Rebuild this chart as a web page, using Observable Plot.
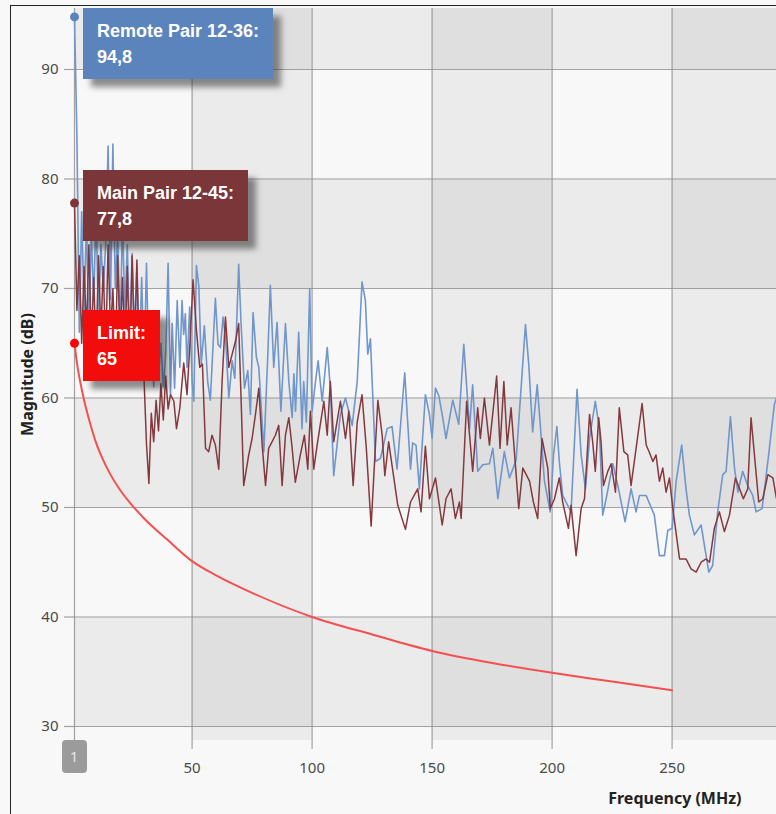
<!DOCTYPE html>
<html><head><meta charset="utf-8">
<script src="https://cdn.jsdelivr.net/npm/d3@7"></script>
<script src="https://cdn.jsdelivr.net/npm/@observablehq/plot@0.6"></script>
<style>
body{margin:0;background:#f8f8f8;}
#frame{position:absolute;left:10px;top:5px;width:766px;height:809px;border-left:1px solid #222;border-top:1px solid #222;overflow:hidden;}
.tip{position:absolute;color:#fff;font:bold 18px "Liberation Sans",Arial,sans-serif;line-height:26px;padding:10px 14px 9px 14px;box-shadow:8px 8px 6px rgba(50,50,50,0.55);white-space:nowrap;}
.xval{position:absolute;width:25px;height:33px;border-radius:4px;background:#9b9b9b;color:#e6e6e6;font:15px "Noto Sans",sans-serif;text-align:center;line-height:33px;}
</style></head>
<body><div id="frame"></div>
<script>
// ---- data ----
const seriesNames = ["Remote Pair 12-36", "Main Pair 12-45", "Limit"];
const blueFreq = [1,2,3,4,5,6,7,8,9,10,11,12,13,14,15,16,17,18,19,20,21,22,23,24,25,26,27,28,29,30,31,32,33,34,35,36,37,38,39,40,41,
41.7,42.7,43.8,44.9,45.8,46.5,47.2,47.9,49,50,50.7,51.8,52.8,53.8,55.1,56.5,57.6,59.7,60.8,61.8,62.9,64,65.3,66.7,67.8,69.4,70.4,71.8,73.2,74.3,75.4,76.8,77.8,79.9,81.5,82.6,84,85.4,87,88.9,90.3,91.7,
92.4,93.1,94.4,95.8,96.5,97.6,99,100,101.4,102.5,104.2,106.3,107.6,109,111.8,113.9,116.7,118.8,120.8,122.2,123.2,124.3,126.4,128.5,131.3,133.3,135.4,138.6,141,
141.9,143.3,144.7,147.2,148.9,150,151.4,152.8,154.2,155.8,158.6,161.1,163.2,165.6,166.9,169,171.1,173.9,175.3,177.4,180.1,182.2,185,188.9,190.3,191.9,193.8,
195.4,196.8,199.2,200.6,202,203,204.4,205.8,207.9,210.4,212.1,213.9,215.6,218,219.7,221.1,222.8,225.3,227.4,230.4,232.9,235,236.4,239.2,
242.6,244.7,246.8,248.2,250,251.7,254,255.8,257.2,259.3,262.1,263.5,265.3,266.9,269,271.1,272.5,274.3,276,277.4,279.4,281.5,283.6,285,287.5,289.9,292.6,293.5];
const blueMag = [94.8,84,66,77,68,76,66,75,69,77,67,74,70,74,83,69,83.2,70,75,66,76,68,74,65,73.2,66,72,64,71,63,72.3,62,66,61,67,62,65,61,64,72.3,60.3,
66.8,60.9,68.9,62.8,68.9,65.8,67.7,62.8,68.3,61.5,59.7,72.1,70.2,63.1,66.6,61.5,59.8,69.1,64.9,64.6,67.4,65.2,60,63.4,61.8,72.2,66.8,60.9,62.5,58.5,67.8,63.7,62.8,55.1,63.7,70.3,62.8,66.9,58.8,66.8,61.5,58.2,
62.2,58.8,66,57.2,61.5,57.8,70,58.8,61.5,63.4,59.7,64.6,60.9,52.9,58.5,60,57.5,61.5,70.6,68.9,64,65.4,54.2,54.5,57.2,57.4,53.5,62.3,53.5,
55.9,55.7,51.7,60.3,58.5,56.3,60.9,60.2,58.5,56.3,59.8,57.6,64.9,57.2,61.2,53.3,53.9,54,55.4,50.8,55.1,52.7,54.3,66.7,63,56.9,61.2,
56.6,52.4,49.6,54.8,57.4,54.2,51.1,50.5,49.6,60.8,54.8,51.7,56.3,59.7,57.2,49.3,51.1,54,52,48.7,51.7,49.6,51.1,51.1,
49.3,45.6,45.6,47.9,48.1,52.4,55.7,51.7,49.3,47.5,48.4,46.5,44.1,44.7,49.6,53,53.3,58.3,53.6,51.4,53.3,52,51.1,49.6,49.9,54.2,59.4,60];

const redFreq = [1,2,3,4,5,6,7,8,9,10,11,12,13,14,15,16,17,18,19,20,21,22,23,24,25,26,27,28,29,30,31,32,33,34,35,36,37,38,39,40,41,
42.4,43.5,44.9,46.5,47.9,49.3,50.4,51.8,53.2,54.3,55.6,56.9,58.3,59.7,61.1,62.5,63.9,65.3,66.7,68.1,69.4,70.4,71.5,73.6,75,76.4,77.8,79.2,80.6,81.9,83.3,84.7,86.1,87.5,88.9,90.3,91.7,93,
95.1,96.8,98.2,99.3,100.7,102.1,104.9,106.3,107.6,109,111.8,113.9,115.3,117.1,118.8,120.8,122.6,124.6,127.4,129.2,130.3,131.9,135.7,138.9,141,
144,145.4,147.2,148.9,151.4,154.2,155.8,157.9,159.7,161.4,162.1,164.4,166.9,169,170.1,171.8,173.9,176.9,178.3,179.9,181.3,182.9,186.1,187.8,190.6,192.2,194,
195.8,198.2,199.2,201,203,204.4,206.8,207.9,210,212.1,213.5,215.6,216.9,218,219.4,220.4,221.4,223.2,224.6,226.4,228,229.9,231.5,232.9,235,237.5,239.2,240.6,
242,243.3,244.7,246.1,247.5,248.9,250.3,253.1,255.8,257.9,260,262.1,264.2,265.6,267.6,269.7,271.8,273.9,276.4,278.1,279.7,281.5,282.9,284.3,286.1,287.8,289.9,292,293.5];
const redMag = [77.8,68,73,65,72,66,74,65,71,64,73,66,72,64,74,66,70,63,73,65,71,64,72,63,73,64,72.6,63,68,61.6,55.8,52.2,58.6,56,59.8,57,61.3,58,62,59,60.3,
59.7,57.2,59.1,63.2,60.3,65.8,70.8,66.2,62.8,63.1,55.4,55.1,56.6,55.7,53.5,61.5,67.4,62.8,64,65.2,66.8,60,52,54.8,56.3,58.5,60.9,55.7,52,55.4,56,56.6,57.5,52,56.6,58.2,55.4,52.3,
54.8,56.6,53.5,58.8,53.5,55.7,59.7,56.6,61.5,56,59.7,56.3,58.8,52,57.8,60.3,55.4,48.3,59.8,56.6,52.9,56,50.2,48,50.5,
51.7,49.6,55.6,50.8,52.7,48.4,50.8,51.7,49,50.5,49,59.7,53.3,59.1,56.3,60,55.7,62,55.4,61.5,55.7,59.1,49.9,53.6,52.4,50.5,49,
56.3,53.6,49.9,50.8,52.7,50.5,48.1,50.2,45.6,49.9,50.8,58.5,56,53.3,58.2,56,52,53.3,54,51.4,59.1,55.1,54.8,52,55.4,59.5,55.7,55,
54.2,54.8,52.4,53.6,51.4,52.7,49.9,45.3,45.3,44.4,44.1,45,45.3,45,48.1,49.6,47.8,49.3,52.7,51.7,50.8,51.7,58.2,54.8,50.5,50.8,53,52.7,50.8];

const limitFreq = [1,2,3,4,5,6,8,10,13,16,20,25,30,40,50,60,75,100,125,150,175,200,225,250];
const limitMag = [65,63.2,61.9,60.8,59.8,58.9,57.3,55.9,54.3,53,51.6,50.2,49,47,45.1,43.8,42.2,40,38.4,36.9,35.8,34.9,34.1,33.3];

const xTicks = [50,100,150,200,250];
const yTicks = [30,40,50,60,70,80,90];
const xDomain = [1, 293.5];
const yDomain = [28.72, 95.57];

// ---- build ----
const blue = blueFreq.map((f,i)=>({f, v: blueMag[i]}));
const red = redFreq.map((f,i)=>({f, v: redMag[i]}));
const limit = limitFreq.map((f,i)=>({f, v: limitMag[i]}));

const colors = {blueLine:"#7096cc", blueBox:"#5b84bd", redLine:"#84393f", redBox:"#7b363a", limLine:"#f45050", limBox:"#f20c0c"};

const xb = [xDomain[0], ...xTicks, xDomain[1]];
const colBands = [];
for (let i = 1; i < xb.length - 1; i += 2) colBands.push({a: xb[i], b: xb[i+1]});
const yb = [yDomain[0], ...yTicks, yDomain[1]];
const rowBands = [];
for (let i = 1; i < yb.length - 1; i += 2) rowBands.push({a: yb[i], b: yb[i+1]});

const firsts = [
  {f: blueFreq[0], v: blueMag[0], c: colors.blueBox},
  {f: redFreq[0], v: redMag[0], c: colors.redBox},
  {f: limitFreq[0], v: limitMag[0], c: "#f00"}
];

const gridColor = "#8c8c8c";
const font = "'Noto Sans', sans-serif";

const plot = Plot.plot({
  width: 765, height: 808,
  marginLeft: 63, marginRight: 0, marginTop: 2, marginBottom: 74,
  style: {background: "transparent", fontFamily: font, overflow: "visible"},
  x: {domain: xDomain, axis: null, label: null},
  y: {domain: yDomain, axis: null, label: null},
  marks: [
    Plot.rect(colBands, {x1: "a", x2: "b", y1: yDomain[0], y2: yDomain[1], fill: "#000", fillOpacity: 0.052}),
    Plot.rect(rowBands, {x1: xDomain[0], x2: xDomain[1], y1: "a", y2: "b", fill: "#000", fillOpacity: 0.052}),
    Plot.ruleX([xDomain[0], ...xTicks], {y1: yDomain[0], y2: yDomain[1], stroke: gridColor, strokeOpacity: 0.8, strokeWidth: 1.2}),
    Plot.ruleY(yTicks, {x1: xDomain[0], x2: xDomain[1], stroke: gridColor, strokeOpacity: 0.8, strokeWidth: 1.2}),
    Plot.axisX(xTicks, {tickSize: 9, tickFormat: () => "", stroke: gridColor, strokeOpacity: 0.8, strokeWidth: 1.2, label: null}),
    Plot.axisX(xTicks, {tickSize: 0, tickPadding: 22, fontSize: 15, fill: "#4a4a4a", label: null}),
    Plot.axisY(yTicks, {tickSize: 10, tickFormat: () => "", stroke: gridColor, strokeOpacity: 0.8, strokeWidth: 1.2, label: null}),
    Plot.axisY(yTicks, {tickSize: 0, tickPadding: 16, fontSize: 15, fill: "#4a4a4a", label: null}),
    Plot.line(blue, {x: "f", y: "v", stroke: colors.blueLine, strokeWidth: 1.6}),
    Plot.line(red, {x: "f", y: "v", stroke: colors.redLine, strokeWidth: 1.5}),
    Plot.line(limit, {x: "f", y: "v", stroke: colors.limLine, strokeWidth: 2, curve: "monotone-x"}),
    Plot.dot(firsts, {x: "f", y: "v", r: 4.5, fill: "c", stroke: "none"}),
    Plot.text(["Magnitude (dB)"], {frameAnchor: "left", textAnchor: "middle", dx: -47, dy: 0, rotate: -90, fontWeight: "bold", fontSize: 16, fill: "#222"}),
    Plot.text(["Frequency (MHz)"], {frameAnchor: "bottom-right", textAnchor: "end", lineAnchor: "middle", dx: -35, dy: 58, fontWeight: "bold", fontSize: 16, fill: "#222"})
  ]
});

const frame = document.getElementById("frame");
frame.appendChild(plot);

const xs = plot.scale("x"), ys = plot.scale("y");
const fmt = v => String(v).replace(".", ",");
const tips = [
  {name: seriesNames[0], v: blueMag[0], bg: colors.blueBox},
  {name: seriesNames[1], v: redMag[0], bg: colors.redBox},
  {name: seriesNames[2], v: limitMag[0], bg: colors.limBox}
];
const top0 = ys.apply(yDomain[1]);
tips.forEach(t => {
  const d = document.createElement("div");
  d.className = "tip";
  d.style.background = t.bg;
  d.style.left = (xs.apply(xDomain[0]) + 9) + "px";
  d.style.top = Math.max(top0, ys.apply(t.v) - 33) + "px";
  const l1 = document.createElement("div"); l1.textContent = t.name + ":";
  const l2 = document.createElement("div"); l2.textContent = fmt(t.v);
  d.appendChild(l1); d.appendChild(l2);
  frame.appendChild(d);
});
const xv = document.createElement("div");
xv.className = "xval";
xv.textContent = String(xDomain[0]);
xv.style.left = (xs.apply(xDomain[0]) - 12.5) + "px";
xv.style.top = ys.apply(yDomain[0]) + "px";
frame.appendChild(xv);
</script>
</body></html>
